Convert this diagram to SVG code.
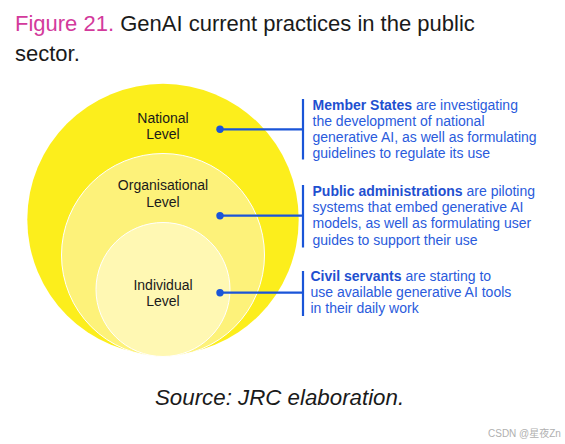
<svg xmlns="http://www.w3.org/2000/svg" width="565" height="444" viewBox="0 0 565 444">
<style>
.t{font-family:"Liberation Sans","DejaVu Sans",sans-serif}
.lvl{font-family:"Liberation Sans",sans-serif;font-size:14px;fill:#1a1a1a;text-anchor:middle}
.desc{font-family:"Liberation Sans",sans-serif;font-size:14px;fill:#2a5bdc}
.b{font-weight:bold;fill:#1f50d0}
.con{stroke:#1a55d8;stroke-width:2.2;fill:none}
.dot{fill:#1a55d8}
</style>
<rect width="565" height="444" fill="#ffffff"/>
<text class="t" x="15" y="31" font-size="22" fill="#1a1a1a"><tspan fill="#d33a9c">Figure 21.</tspan> GenAI current practices in the public</text>
<text class="t" x="15" y="61" font-size="22" fill="#1a1a1a">sector.</text>
<g id="national">
<circle cx="163" cy="219.5" r="135.7" fill="#fcee1c"/>
<text class="lvl" x="163" y="123">National</text>
<text class="lvl" x="163" y="139">Level</text>
</g>
<g id="organisational">
<circle cx="163" cy="255" r="101.5" fill="#fdf27a" stroke="#ffffff" stroke-width="1"/>
<text class="lvl" x="163" y="190">Organisational</text>
<text class="lvl" x="163" y="207">Level</text>
</g>
<g id="individual">
<circle cx="163" cy="289.5" r="67" fill="#fff8b3" stroke="#ffffff" stroke-width="1"/>
<text class="lvl" x="163" y="290">Individual</text>
<text class="lvl" x="163" y="306">Level</text>
</g>
<g id="connectors">
<line class="con" x1="220" y1="129.3" x2="303" y2="129.3"/>
<line class="con" x1="303" y1="99" x2="303" y2="159.5"/>
<circle class="dot" cx="220" cy="129.3" r="3.7"/>
<line class="con" x1="220" y1="215.7" x2="303" y2="215.7"/>
<line class="con" x1="303" y1="185" x2="303" y2="247.5"/>
<circle class="dot" cx="220" cy="215.7" r="3.7"/>
<line class="con" x1="220" y1="292.7" x2="303" y2="292.7"/>
<line class="con" x1="303" y1="271" x2="303" y2="316"/>
<circle class="dot" cx="220" cy="292.7" r="3.7"/>
</g>
<g id="desc-national">
<text class="desc" x="312.5" y="109.5"><tspan class="b">Member States</tspan> are investigating</text>
<text class="desc" x="312.5" y="125.7">the development of national</text>
<text class="desc" x="312.5" y="142">generative AI, as well as formulating</text>
<text class="desc" x="312.5" y="158.3">guidelines to regulate its use</text>
</g>
<g id="desc-organisational">
<text class="desc" x="312.5" y="195.7"><tspan class="b">Public administrations</tspan> are piloting</text>
<text class="desc" x="312.5" y="212">systems that embed generative AI</text>
<text class="desc" x="312.5" y="228.3">models, as well as formulating user</text>
<text class="desc" x="312.5" y="244.5">guides to support their use</text>
</g>
<g id="desc-individual">
<text class="desc" x="310.5" y="281"><tspan class="b">Civil servants</tspan> are starting to</text>
<text class="desc" x="310.5" y="297">use available generative AI tools</text>
<text class="desc" x="310.5" y="313.3">in their daily work</text>
</g>
<text class="t" x="155" y="405" font-size="22.3" font-style="italic" fill="#1a1a1a">Source: JRC elaboration.</text>
<text x="488" y="437" font-family="'Liberation Sans','Noto Sans CJK SC',sans-serif" font-size="10" fill="#b0b0b0">CSDN @星夜Zn</text>
</svg>
